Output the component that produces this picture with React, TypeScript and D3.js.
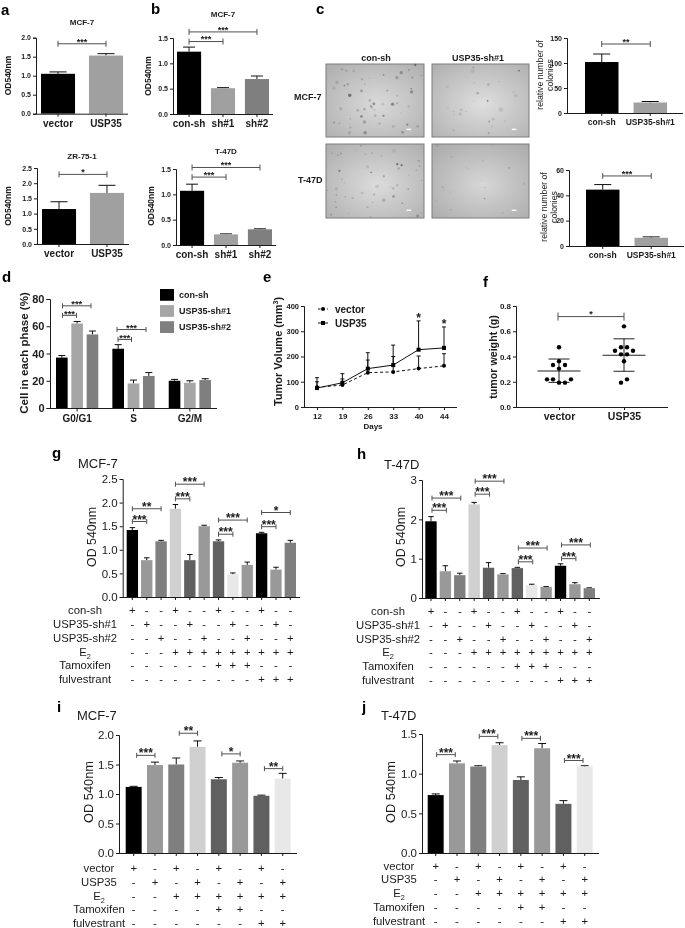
import React, { useEffect, useRef } from 'react';
import * as d3 from 'd3';

const FONT = '"Liberation Sans", Arial, sans-serif';

// panel a
const aCats = ['vector', 'USP35'];
const aMcfValues = [1.05, 1.53];
const aMcfTops = [1.1, 1.58];
const aZrValues = [1.15, 1.68];
const aZrTops = [1.39, 1.93];

// panel b
const bCats = ['con-sh', 'sh#1', 'sh#2'];
const bMcfValues = [1.23, 0.51, 0.69];
const bMcfTops = [1.32, 0.52, 0.75];
const bT47Values = [1.07, 0.21, 0.31];
const bT47Tops = [1.2, 0.22, 0.32];

// panel c
const cCats = ['con-sh', 'USP35-sh#1'];
const cMcfValues = [102, 21];
const cMcfTops = [118, 23];
const cT47Values = [44.5, 6.5];
const cT47Tops = [48.5, 7.2];

// colonies on the micrographs: x, y, radius, darkness (units of a 293x220 field)
const colMcfCon = [
  [71, 94, 6, 0.75], [225, 26, 6, 0.45], [212, 41, 6, 0.35], [256, 84, 6, 0.5], [199, 121, 6, 0.6], [143, 120, 5, 0.6],
  [117, 207, 6, 0.5], [229, 206, 5, 0.4], [115, 175, 6, 0.35], [106, 158, 5, 0.5], [172, 156, 4, 0.6], [106, 81, 5, 0.4],
  [55, 65, 3, 0.6], [65, 61, 4, 0.35], [33, 55, 6, 0.2], [24, 73, 6, 0.15], [115, 136, 5, 0.3], [95, 140, 4, 0.4],
  [44, 135, 6, 0.2], [134, 127, 4, 0.4], [131, 110, 5, 0.25], [147, 156, 5, 0.25], [160, 180, 4, 0.25], [73, 165, 3, 0.3],
  [24, 176, 3, 0.5], [40, 179, 4, 0.2], [73, 191, 3, 0.3], [70, 207, 6, 0.2], [201, 188, 5, 0.2], [243, 183, 4, 0.5],
  [274, 188, 5, 0.25], [267, 3, 4, 0.7], [248, 18, 3, 0.4], [285, 35, 3, 0.3], [258, 41, 3, 0.5], [255, 74, 3, 0.5],
  [172, 33, 3, 0.5], [183, 80, 3, 0.5], [108, 46, 4, 0.3], [116, 60, 3, 0.3], [130, 43, 2, 0.3], [61, 20, 3, 0.4],
  [48, 16, 5, 0.2], [83, 21, 5, 0.2], [213, 119, 4, 0.3], [247, 128, 4, 0.2], [213, 96, 4, 0.2], [169, 121, 6, 0.15],
  [224, 148, 2, 0.3], [145, 138, 3, 0.3], [137, 131, 3, 0.5],
];
const colMcfSh = [
  [263, 20, 3, 0.7], [125, 10, 3, 0.4], [168, 111, 3, 0.75], [170, 62, 5, 0.25], [138, 88, 5, 0.3], [208, 138, 8, 0.15],
  [88, 138, 5, 0.2], [85, 151, 6, 0.15], [65, 143, 3, 0.2], [103, 143, 2, 0.3], [173, 173, 3, 0.5], [185, 166, 5, 0.2],
  [171, 208, 3, 0.5], [181, 188, 5, 0.1], [253, 96, 7, 0.12], [123, 21, 8, 0.1], [46, 68, 6, 0.1], [65, 200, 4, 0.15],
  [48, 133, 5, 0.1], [201, 53, 2, 0.3], [126, 111, 2, 0.2], [246, 85, 5, 0.1], [68, 153, 2, 0.3], [128, 56, 3, 0.12],
  [220, 173, 4, 0.1],
];
const colT47Con = [
  [213, 60, 4, 0.75], [226, 63, 4, 0.7], [217, 73, 5, 0.25], [40, 80, 4, 0.6], [135, 84, 3, 0.65], [173, 96, 4, 0.4],
  [124, 68, 6, 0.15], [203, 20, 7, 0.12], [153, 126, 7, 0.15], [173, 167, 6, 0.3], [201, 132, 4, 0.3], [202, 156, 5, 0.4],
  [213, 123, 5, 0.2], [144, 150, 3, 0.4], [108, 146, 5, 0.2], [58, 157, 3, 0.3], [31, 133, 5, 0.2], [31, 151, 3, 0.35],
  [28, 172, 4, 0.2], [30, 188, 3, 0.4], [15, 210, 3, 0.4], [80, 161, 4, 0.2], [124, 188, 4, 0.25], [228, 176, 3, 0.4],
  [246, 134, 3, 0.4], [248, 92, 2, 0.3], [278, 50, 3, 0.4], [280, 66, 3, 0.3], [270, 78, 3, 0.2], [286, 108, 2, 0.4],
  [274, 214, 5, 0.4], [285, 206, 2, 0.3], [104, 5, 3, 0.3], [45, 28, 3, 0.4], [36, 33, 5, 0.15], [18, 28, 2, 0.3],
  [88, 18, 2, 0.3], [118, 30, 3, 0.2], [138, 27, 3, 0.3], [166, 35, 3, 0.2], [48, 105, 3, 0.2], [55, 115, 2, 0.2],
  [4, 138, 2, 0.3], [140, 173, 2, 0.4], [68, 206, 2, 0.3], [133, 216, 2, 0.3], [193, 128, 2, 0.3],
];
const colT47Sh = [
  [233, 71, 3, 0.35], [159, 162, 3, 0.45], [32, 129, 3, 0.3], [36, 136, 2, 0.3], [56, 143, 2, 0.3], [15, 5, 3, 0.25],
  [59, 38, 3, 0.2], [153, 50, 4, 0.1], [160, 129, 2, 0.25], [278, 118, 4, 0.15], [56, 195, 3, 0.2], [213, 205, 3, 0.2],
  [108, 73, 2, 0.15], [13, 168, 3, 0.1], [150, 108, 2, 0.2], [183, 5, 3, 0.1], [103, 68, 3, 0.1],
];

// panel d
const phaseCats = ['G0/G1', 'S', 'G2/M'];
const phaseSeries = ['con-sh', 'USP35-sh#1', 'USP35-sh#2'];
const phaseColors = ['#000000', '#a6a6a6', '#7f7f7f'];
const phaseValues = [[37, 43.5, 20], [62, 18, 18.5], [54, 23.5, 20.5]];
const phaseTops = [[38.5, 46.5, 21], [63.5, 20.5, 20], [56.5, 26, 21.5]];

// panel e
const days = ['12', '19', '26', '33', '40', '44'];
const volVector = [78, 87, 136, 139, 152, 163];
const volVectorTop = [100, 111, 186, 200, 202, 211];
const volUsp = [75, 96, 152, 166, 227, 234];
const volUspTop = [116, 132, 215, 245, 341, 317];

// panel f
const weightCats = ['vector', 'USP35'];
const weightVector = [0.473, 0.362, 0.333, 0.333, 0.304, 0.219, 0.219, 0.219, 0.193, 0.193];
const slotVector = [0, 0, -1, 1, 0, -2, -1, 2, 0, 1];
const weightUsp = [0.639, 0.473, 0.473, 0.446, 0.446, 0.417, 0.417, 0.362, 0.219, 0.193];
const slotUsp = [0, -0.5, 0.5, -1.5, 1.5, -0.5, 0.5, 0, 0.5, -0.5];
const weightStats = [
  { mean: 0.285, low: 0.195, high: 0.38 },
  { mean: 0.41, low: 0.283, high: 0.54 },
];

// panels g, h
const shColors = ['#000000', '#999999', '#7f7f7f', '#d0d0d0', '#606060', '#999999', '#606060', '#e8e8e8', '#999999', '#000000', '#999999', '#7f7f7f'];
const gValues = [1.42, 0.78, 1.18, 1.87, 0.78, 1.5, 1.18, 0.48, 0.68, 1.35, 0.58, 1.15];
const gTops = [1.47, 0.83, 1.2, 1.96, 0.9, 1.52, 1.21, 0.51, 0.74, 1.37, 0.63, 1.2];
const hValues = [1.95, 0.68, 0.58, 2.38, 0.77, 0.6, 0.76, 0.33, 0.28, 0.82, 0.35, 0.25];
const hTops = [2.07, 0.82, 0.63, 2.43, 0.9, 0.62, 0.78, 0.35, 0.29, 0.87, 0.39, 0.26];
const shRowLabels = ['con-sh', 'USP35-sh#1', 'USP35-sh#2', 'E2', 'Tamoxifen', 'fulvestrant'];
const shRows = ['+--+--+--+--', '-+--+--+--+-', '--+--+--+--+', '---+++++++++', '------+++---', '---------+++'];

// panels i, j
const uspColors = ['#000000', '#999999', '#7f7f7f', '#d0d0d0', '#606060', '#999999', '#606060', '#e8e8e8'];
const iValues = [1.12, 1.49, 1.5, 1.8, 1.25, 1.53, 0.97, 1.26];
const iTops = [1.13, 1.54, 1.61, 1.9, 1.28, 1.56, 0.98, 1.35];
const jValues = [0.73, 1.13, 1.09, 1.36, 0.92, 1.32, 0.62, 1.09];
const jTops = [0.745, 1.16, 1.1, 1.39, 0.96, 1.38, 0.66, 1.1];
const uspRowLabels = ['vector', 'USP35', 'E2', 'Tamoxifen', 'fulvestrant'];
const uspRows = ['+-+-+-+-', '-+-+-+-+', '--++++++', '----++--', '------++'];

const panelLetters = [
  ['a', 1, 15], ['b', 151, 14], ['c', 316, 14], ['d', 2, 282], ['e', 263, 282],
  ['f', 483, 287], ['g', 52, 458], ['h', 357, 459], ['i', 57, 712], ['j', 362, 712],
];

const text = (g, x, y, str, size, weight = 'normal', anchor = 'middle') =>
  g.append('text')
    .attr('x', x).attr('y', y)
    .attr('text-anchor', anchor)
    .attr('font-family', FONT)
    .attr('font-size', size)
    .attr('font-weight', weight)
    .attr('fill', '#1a1a1a')
    .text(str);

const vText = (g, x, y, str, size, weight = 'normal') =>
  text(g, 0, 0, str, size, weight).attr('transform', `translate(${x},${y}) rotate(-90)`);

const bracket = (g, x1, x2, y, tick, label, size, gap) => {
  g.append('path')
    .attr('d', `M${x1},${y - tick}V${y + tick}M${x1},${y}H${x2}M${x2},${y - tick}V${y + tick}`)
    .attr('fill', 'none').attr('stroke', '#505050').attr('stroke-width', 1);
  text(g, (x1 + x2) / 2, y - gap + 0.59 * size, label, size, 'bold');
};

// y axis + x axis, the latter drawn over the whole width of the plot
const axes = (g, x, y, s) => {
  const yAxis = d3.axisLeft(y).tickValues(s.ticks).tickSize(s.tickLen).tickPadding(s.tickPad ?? 2).tickFormat(s.fmt);
  const ya = g.append('g').attr('transform', `translate(${s.axisX},0)`).call(yAxis);
  const xAxis = d3.axisBottom(x).tickSize(s.tickLen).tickSizeOuter(0).tickPadding(3);
  if (s.noCatLabels) xAxis.tickFormat(() => '');
  const xa = g.append('g').attr('transform', `translate(0,${s.y0})`).call(xAxis);
  xa.select('.domain').attr('d', `M${s.axisX},0.5H${s.axisEnd}`);
  [ya, xa].forEach((a) => {
    a.selectAll('.domain, line').attr('stroke', '#1a1a1a').attr('stroke-width', s.axisW ?? 1);
    a.selectAll('text')
      .attr('font-family', FONT)
      .attr('fill', '#1a1a1a');
  });
  ya.selectAll('text').attr('font-size', s.tickSize).attr('font-weight', s.weight ?? 'normal');
  xa.selectAll('text').attr('font-size', s.catSize ?? s.tickSize).attr('font-weight', s.weight ?? 'normal');
  return xa;
};

const errorBar = (g, cx, yVal, yTop, cap, w = 1) => {
  g.append('path')
    .attr('d', `M${cx},${yVal}V${yTop}M${cx - cap / 2},${yTop}H${cx + cap / 2}`)
    .attr('fill', 'none').attr('stroke', '#111').attr('stroke-width', w);
};

const barChart = (root, s) => {
  const g = root.append('g');
  const y = d3.scaleLinear().domain([0, s.yMax]).range([s.y0, s.y1]);
  const x = d3.scaleBand().domain(s.cats).range([s.barL, s.barR]).paddingInner(s.pad).paddingOuter(0);
  s.values.forEach((v, i) => {
    const cat = s.cats[i];
    const cx = x(cat) + x.bandwidth() / 2;
    errorBar(g, cx, y(v), y(s.tops[i]), s.cap, s.errW ?? 1);
    g.append('rect')
      .attr('x', x(cat)).attr('y', y(v))
      .attr('width', x.bandwidth()).attr('height', y(0) - y(v))
      .attr('fill', s.colors[i]);
  });
  axes(g, x, y, s);
  (s.brackets ?? []).forEach(([a, b, v, label]) => {
    const d = s.brDx ?? [0, 0];
    bracket(g, x(s.cats[a]) + x.bandwidth() / 2 + d[0], x(s.cats[b]) + x.bandwidth() / 2 + d[1], y(v), s.brTick, label, s.starSize, s.starGap);
  });
  if (s.rows) {
    s.rows.forEach((row, r) => {
      const ry = s.rowYs[r];
      [...row].forEach((sign, i) => {
        text(g, x(s.cats[i]) + x.bandwidth() / 2, ry + 4, sign, s.rowSize);
      });
      const lab = s.rowLabels[r];
      if (lab === 'E2') {
        const t = text(g, s.rowX, ry + 4, 'E', s.rowSize);
        t.append('tspan').attr('font-size', s.rowSize * 0.65).attr('dy', 2.5).text('2');
      } else {
        text(g, s.rowX, ry + 4, lab, s.rowSize);
      }
    });
  }
  return g;
};

const micrograph = (root, id, x0, x1, y0, y1, colonies, inner, outer) => {
  const fx = d3.scaleLinear().domain([0, 293]).range([x0, x1]);
  const fy = d3.scaleLinear().domain([0, 220]).range([y0, y1]);
  const k = (x1 - x0) / 293;
  const grad = root.append('radialGradient').attr('id', id).attr('cx', '52%').attr('cy', '55%').attr('r', '70%');
  grad.append('stop').attr('offset', '0%').attr('stop-color', inner);
  grad.append('stop').attr('offset', '100%').attr('stop-color', outer);
  const g = root.append('g');
  g.append('rect').attr('x', x0).attr('y', y0).attr('width', x1 - x0).attr('height', y1 - y0)
    .attr('fill', `url(#${id})`).attr('stroke', '#7c7c7c').attr('stroke-width', 1);
  colonies.forEach(([cx, cy, r, a]) => {
    g.append('circle').attr('cx', fx(cx)).attr('cy', fy(cy)).attr('r', r * k * 0.85)
      .attr('fill', '#303030').attr('fill-opacity', a * 0.75);
  });
  g.append('rect').attr('x', fx(241)).attr('y', fy(195)).attr('width', 4.5).attr('height', 1.4).attr('fill', '#fff');
};

const draw = (svg) => {
  const defs = svg.append('defs');
  defs.append('filter').attr('id', 'soft').attr('x', '0').attr('y', '0').attr('width', '100%').attr('height', '100%')
    .append('feGaussianBlur').attr('stdDeviation', 0.35);
  const root = svg.append('g').attr('filter', 'url(#soft)');

  panelLetters.forEach(([l, x, y]) => text(root, x, y, l, 15, 'bold', 'start').attr('fill', '#000'));

  const smallBase = { tickLen: 3, fmt: d3.format('.1f'), tickSize: 7, catSize: 10, weight: 'bold', starSize: 9, starGap: 4.5, brTick: 3, errW: 1 };

  // a
  text(root, 82, 25, 'MCF-7', 8, 'bold');
  barChart(root, { ...smallBase, cats: aCats, values: aMcfValues, tops: aMcfTops, colors: ['#000', '#a0a0a0'], yMax: 2, ticks: [0, 0.5, 1, 1.5, 2], y0: 113.7, y1: 37.7, axisX: 36, axisEnd: 128, barL: 41, barR: 123, pad: 0.29, cap: 17, brackets: [[0, 1, 1.84, '***']] });
  vText(root, 11, 75.5, 'OD540nm', 8.5, 'bold');
  text(root, 82, 159, 'ZR-75-1', 8, 'bold');
  barChart(root, { ...smallBase, cats: aCats, values: aZrValues, tops: aZrTops, colors: ['#000', '#a0a0a0'], yMax: 2.5, ticks: [0, 0.5, 1, 1.5, 2, 2.5], y0: 244, y1: 168, axisX: 37, axisEnd: 129, barL: 42, barR: 124, pad: 0.29, cap: 17, brackets: [[0, 1, 2.29, '*']] });
  vText(root, 11, 206, 'OD540nm', 8.5, 'bold');

  // b
  text(root, 223, 16.5, 'MCF-7', 8, 'bold');
  barChart(root, { ...smallBase, cats: bCats, values: bMcfValues, tops: bMcfTops, colors: ['#000', '#a0a0a0', '#7f7f7f'], yMax: 1.5, ticks: [0, 0.5, 1, 1.5], y0: 114, y1: 38, axisX: 173, axisEnd: 273, barL: 177, barR: 269, pad: 0.29, cap: 12, brackets: [[0, 1, 1.43, '***'], [0, 2, 1.62, '***']] });
  vText(root, 151, 76, 'OD540nm', 8.5, 'bold');
  text(root, 226, 154, 'T-47D', 8, 'bold');
  barChart(root, { ...smallBase, cats: bCats, values: bT47Values, tops: bT47Tops, colors: ['#000', '#a0a0a0', '#7f7f7f'], yMax: 1.5, ticks: [0, 0.5, 1, 1.5], y0: 245, y1: 169, axisX: 176, axisEnd: 276, barL: 180, barR: 272, pad: 0.29, cap: 12, brackets: [[0, 1, 1.34, '***'], [0, 2, 1.53, '***']] });
  vText(root, 154, 206, 'OD540nm', 8.5, 'bold');

  // c micrographs
  text(root, 376, 61, 'con-sh', 9, 'bold');
  text(root, 478, 61, 'USP35-sh#1', 9, 'bold');
  text(root, 294, 100, 'MCF-7', 9, 'bold', 'start');
  text(root, 298, 183, 'T-47D', 9, 'bold', 'start');
  micrograph(root, 'm1', 326, 424, 64, 137, colMcfCon, '#dadada', '#b0b0b0');
  micrograph(root, 'm2', 432, 529, 64, 137, colMcfSh, '#dedede', '#b2b2b2');
  micrograph(root, 'm3', 326, 424, 144, 218, colT47Con, '#dcdcdc', '#b0b0b0');
  micrograph(root, 'm4', 432, 529, 144, 218, colT47Sh, '#d6d6d6', '#acacac');

  // c charts
  const cBase = { ...smallBase, catSize: 8.5, fmt: d3.format('d'), starSize: 9 };
  barChart(root, { ...cBase, cats: cCats, values: cMcfValues, tops: cMcfTops, colors: ['#000', '#a0a0a0'], yMax: 150, ticks: [0, 50, 100, 150], y0: 113, y1: 38, axisX: 567, axisEnd: 683, barL: 585, barR: 667, pad: 0.31, cap: 17, brackets: [[0, 1, 138, '**']] });
  vText(root, 543, 75, 'relative number of', 8.7);
  vText(root, 553, 75, 'colonies', 8.7);
  barChart(root, { ...cBase, cats: cCats, values: cT47Values, tops: cT47Tops, colors: ['#000', '#a0a0a0'], yMax: 60, ticks: [0, 20, 40, 60], y0: 246, y1: 170, axisX: 569, axisEnd: 684, barL: 586, barR: 668, pad: 0.31, cap: 17, brackets: [[0, 1, 55.3, '***']] });
  vText(root, 547, 207, 'relative number of', 8.7);
  vText(root, 557, 207, 'colonies', 8.7);

  // d
  {
    const g = root.append('g');
    const y = d3.scaleLinear().domain([0, 80]).range([408, 299]);
    const x = d3.scaleBand().domain(phaseCats).range([56, 211]).paddingInner(0.25).paddingOuter(0);
    const inner = d3.scaleBand().domain(phaseSeries).range([0, x.bandwidth()]).paddingInner(0.24).paddingOuter(0);
    const mid = (c, s) => x(c) + inner(s) + inner.bandwidth() / 2;
    phaseSeries.forEach((s, si) => {
      phaseCats.forEach((c, ci) => {
        errorBar(g, mid(c, s), y(phaseValues[si][ci]), y(phaseTops[si][ci]), 7);
        g.append('rect')
          .attr('x', x(c) + inner(s)).attr('y', y(phaseValues[si][ci]))
          .attr('width', inner.bandwidth()).attr('height', y(0) - y(phaseValues[si][ci]))
          .attr('fill', phaseColors[si]);
      });
    });
    axes(g, x, y, { ticks: [0, 20, 40, 60, 80], tickLen: 3.5, fmt: d3.format('d'), tickSize: 11, catSize: 10, weight: 'bold', axisX: 50, axisEnd: 217, y0: 408 });
    bracket(g, 62.5, 76.5, y(68), 2.5, '***', 9.5, 4);
    bracket(g, 62.5, 91, y(75), 2.5, '***', 9.5, 4);
    bracket(g, 118, 131.5, y(50.3), 2.5, '***', 9.5, 4);
    bracket(g, 117, 146, y(57.6), 2.5, '***', 9.5, 4);
    vText(g, 28, 353, 'Cell in each phase (%)', 11.5, 'bold');
    const legend = d3.scaleBand().domain(phaseSeries).range([289, 333]).paddingInner(0.27);
    phaseSeries.forEach((s, i) => {
      g.append('rect').attr('x', 160).attr('y', legend(s)).attr('width', 14).attr('height', legend.bandwidth()).attr('fill', phaseColors[i]);
      text(g, 179, legend(s) + legend.bandwidth() / 2 + 3.2, s, 9, 'bold', 'start');
    });
  }

  // e
  {
    const g = root.append('g');
    const y = d3.scaleLinear().domain([0, 400]).range([407, 306]);
    const x = d3.scalePoint().domain(days).range([317, 444]);
    const line = d3.line().x((_, i) => x(days[i])).y((d) => y(d));
    days.forEach((d, i) => {
      errorBar(g, x(d), y(volVector[i]), y(volVectorTop[i]), 4);
      errorBar(g, x(d), y(volUsp[i]), y(volUspTop[i]), 4);
    });
    g.append('path').attr('d', line(volVector)).attr('fill', 'none').attr('stroke', '#111').attr('stroke-width', 1).attr('stroke-dasharray', '3,2.5');
    g.append('path').attr('d', line(volUsp)).attr('fill', 'none').attr('stroke', '#111').attr('stroke-width', 1);
    days.forEach((d, i) => {
      g.append('circle').attr('cx', x(d)).attr('cy', y(volVector[i])).attr('r', 2).attr('fill', '#000');
      g.append('rect').attr('x', x(d) - 2).attr('y', y(volUsp[i]) - 2).attr('width', 4).attr('height', 4).attr('fill', '#000');
    });
    axes(g, x, y, { ticks: [0, 100, 200, 300, 400], tickLen: 3, fmt: d3.format('d'), tickSize: 7.5, catSize: 8, weight: 'bold', axisX: 304, axisEnd: 457, y0: 407 });
    [4, 5].forEach((i) => {
      text(g, x(days[i]), y(volUspTop[i]) - 6 + 7, '*', 12, 'bold');
    });
    const t = vText(g, 281.5, 351.5, 'Tumor Volume  (mm', 11, 'bold');
    t.append('tspan').attr('font-size', 7).attr('dy', -4).text('3');
    t.append('tspan').attr('dy', 4).text(')');
    text(g, 373, 429, 'Days', 8, 'bold');
    g.append('path').attr('d', 'M318,309H328').attr('stroke', '#111').attr('stroke-dasharray', '2.5,2');
    g.append('circle').attr('cx', 323).attr('cy', 309).attr('r', 2).attr('fill', '#000');
    g.append('path').attr('d', 'M318,323H328').attr('stroke', '#111');
    g.append('rect').attr('x', 321).attr('y', 321).attr('width', 4).attr('height', 4).attr('fill', '#000');
    text(g, 335, 313, 'vector', 10, 'bold', 'start');
    text(g, 335, 327, 'USP35', 10, 'bold', 'start');
  }

  // f
  {
    const g = root.append('g');
    const y = d3.scaleLinear().domain([0, 0.8]).range([407, 306]);
    const x = d3.scalePoint().domain(weightCats).range([559, 624]);
    const groups = [[weightVector, slotVector], [weightUsp, slotUsp]];
    groups.forEach(([vals, slots], gi) => {
      const cx = x(weightCats[gi]);
      const st = weightStats[gi];
      g.append('path').attr('d', `M${cx - 21.5},${y(st.mean)}H${cx + 21.5}`).attr('stroke', '#222').attr('stroke-width', 1.1);
      g.append('path').attr('d', `M${cx},${y(st.low)}V${y(st.high)}M${cx - 10.5},${y(st.low)}H${cx + 10.5}M${cx - 10.5},${y(st.high)}H${cx + 10.5}`)
        .attr('fill', 'none').attr('stroke', '#222').attr('stroke-width', 1);
      vals.forEach((v, i) => {
        g.append('circle').attr('cx', cx + slots[i] * 6).attr('cy', y(v)).attr('r', 2.2).attr('fill', '#000');
      });
    });
    axes(g, x, y, { ticks: [0, 0.2, 0.4, 0.6, 0.8], tickLen: 3, fmt: d3.format('.1f'), tickSize: 8, catSize: 10.5, weight: 'bold', axisX: 516, axisEnd: 668, y0: 407 });
    bracket(g, x(weightCats[0]) - 1, x(weightCats[1]), y(0.716), 4, '*', 9, 4.5);
    vText(g, 497, 357, 'tumor weight (g)', 10.7, 'bold');
  }

  // g-j
  const bigBase = { tickLen: 3, fmt: d3.format('.1f'), tickSize: 11.5, rowSize: 11.3, noCatLabels: true, starSize: 12, starGap: 5, brTick: 2.5, axisW: 1 };
  const idx = (n) => d3.range(n).map(String);

  text(root, 78, 468, 'MCF-7', 13, 'normal', 'start');
  barChart(root, { ...bigBase, cats: idx(12), values: gValues, tops: gTops, colors: shColors, yMax: 2.5, ticks: [0, 0.5, 1, 1.5, 2, 2.5], y0: 597, y1: 479, axisX: 122.7, axisEnd: 300, barL: 126.7, barR: 296, pad: 0.21, cap: 5.5,
    brackets: [[0, 1, 1.6, '***'], [0, 2, 1.87, '**'], [3, 4, 2.08, '***'], [3, 5, 2.39, '***'], [6, 7, 1.33, '***'], [6, 8, 1.63, '***'], [9, 10, 1.49, '***'], [9, 11, 1.79, '*']],
    rows: shRows, rowLabels: shRowLabels, rowYs: [610, 624, 638, 652, 665, 679], rowX: 85 });
  vText(root, 96, 537, 'OD 540nm', 12.4);

  text(root, 384, 469, 'T-47D', 13, 'normal', 'start');
  barChart(root, { ...bigBase, cats: idx(12), values: hValues, tops: hTops, colors: shColors, yMax: 3, ticks: [0, 1, 2, 3], fmt: d3.format('d'), y0: 598, y1: 480, axisX: 422, axisEnd: 600, barL: 425.3, barR: 595, pad: 0.21, cap: 5.5, brDx: [1, 1],
    brackets: [[0, 1, 2.23, '***'], [0, 2, 2.54, '***'], [3, 4, 2.64, '***'], [3, 5, 2.97, '***'], [6, 7, 0.92, '***'], [6, 8, 1.27, '***'], [9, 10, 1.0, '***'], [9, 11, 1.35, '***']],
    rows: shRows, rowLabels: shRowLabels, rowYs: [611, 625, 639, 652, 666, 680], rowX: 388 });
  vText(root, 405, 537, 'OD 540nm', 12.4);

  text(root, 77, 720, 'MCF-7', 13, 'normal', 'start');
  barChart(root, { ...bigBase, cats: idx(8), values: iValues, tops: iTops, colors: uspColors, yMax: 2, ticks: [0, 0.5, 1, 1.5, 2], y0: 853, y1: 735, axisX: 119, axisEnd: 297, barL: 125.7, barR: 290.7, pad: 0.25, cap: 8, brDx: [3, 0],
    brackets: [[0, 1, 1.655, '***'], [2, 3, 2.03, '**'], [4, 5, 1.68, '*'], [6, 7, 1.43, '**']],
    rows: uspRows, rowLabels: uspRowLabels, rowYs: [868, 882, 896, 909, 923], rowX: 99 });
  vText(root, 93, 792, 'OD 540nm', 12.8);

  text(root, 381, 720, 'T-47D', 13, 'normal', 'start');
  barChart(root, { ...bigBase, cats: idx(8), values: jValues, tops: jTops, colors: uspColors, yMax: 1.5, ticks: [0, 0.5, 1, 1.5], y0: 853, y1: 734, axisX: 422, axisEnd: 599, barL: 427.7, barR: 592.7, pad: 0.25, cap: 8, brDx: [1, -1.7],
    brackets: [[0, 1, 1.24, '***'], [2, 3, 1.47, '***'], [4, 5, 1.445, '***'], [6, 7, 1.166, '***']],
    rows: uspRows, rowLabels: uspRowLabels, rowYs: [866, 879, 893, 907, 921], rowX: 399 });
  vText(root, 395, 792, 'OD 540nm', 12.8);
};

const App = () => {
  const svgRef = useRef(null);

  useEffect(() => {
    const svg = d3.select(svgRef.current);
    svg.selectAll('*').remove();
    draw(svg);
  }, []);

  return <svg ref={svgRef} width={685} height={928} style={{ position: 'absolute', left: 0, top: 0, background: '#fff' }} />;
};

export default App;
